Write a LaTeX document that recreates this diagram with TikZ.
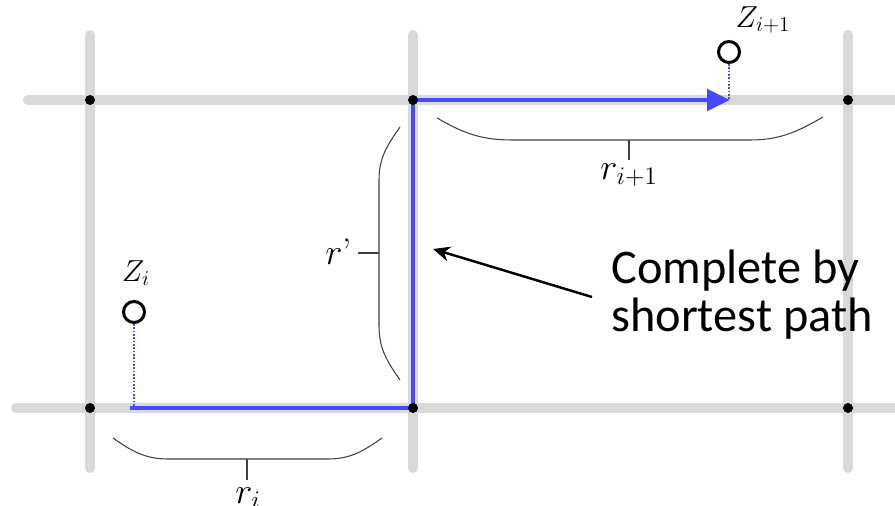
\documentclass[tikz,border=0pt]{standalone}
\usepackage{amsmath,amssymb}
\usepackage{fontspec}
\usepackage{tikz}
\usetikzlibrary{arrows.meta}
\newfontfamily\calloutfont{Carlito}
\definecolor{gridgray}{RGB}{217,217,217}
\definecolor{pathblue}{RGB}{72,72,252}

\begin{document}
\begin{tikzpicture}[x=0.02cm,y=-0.02cm,
    gridline/.style={gridgray, line width=5.7pt, line cap=round},
    route/.style={pathblue, line width=2.8pt},
    probe/.style={pathblue, densely dotted, line width=0.9pt},
    brace/.style={black!75, line width=0.6pt},
    site/.style={circle, draw, line width=1.7pt, minimum size=0.42cm, inner sep=0pt},
    dot/.style={circle, fill, inner sep=0pt, minimum size=0.2cm}]
    \useasboundingbox (0,0) rectangle (895,506);

    \coordinate (A) at (90,100);
    \coordinate (B) at (413,100);
    \coordinate (C) at (848,100);
    \coordinate (D) at (90,408);
    \coordinate (E) at (413,408);
    \coordinate (F) at (848,408);
    \coordinate (S) at (130,408);
    \coordinate (T) at (730,100);
    \coordinate (S0) at (134,408);
    \coordinate (T0) at (729,100);

    \draw[gridline] (28,100) -- (900,100);
    \draw[gridline] (16,408) -- (900,408);
    \draw[gridline] (90,35) -- (90,468);
    \draw[gridline] (413,35) -- (413,468);
    \draw[gridline] (848,35) -- (848,468);

    \draw[route, -{Triangle[length=0.46cm,width=0.42cm]}] (S) -- (E) -- (B) -- (T);

    \node[site] (Zi) at (134,312) {};
    \node[site] (Zj) at (729,52) {};
    \draw[probe] (Zi) -- (S0);
    \draw[probe] (Zj) -- (T0);

    \node at (A)[dot]{};
    \node at (B)[dot]{};
    \node at (C)[dot]{};
    \node at (D)[dot]{};
    \node at (E)[dot]{};
    \node at (F)[dot]{};

    \draw[brace] (113,438) to[out=-35,in=180] (168,459) -- (328,459)
        to[out=0,in=215] (382,438);
    \draw[brace] (247,459) -- (247,480);
    \draw[brace] (437,118) to[out=-30,in=180] (512,140) -- (750,140)
        to[out=0,in=210] (823,117);
    \draw[brace] (629,140) -- (629,160);
    \draw[brace] (400,127) to[out=235,in=90] (379,180) -- (379,326)
        to[out=-90,in=125] (400,380);
    \draw[brace] (379,253) -- (358,253);

    \node[inner sep=0pt] (ZiLabel) at (136,273) {\fontsize{17}{20}\selectfont $Z_i$};
    \node[inner sep=0pt] (ZjLabel) at (763,20) {\fontsize{17}{20}\selectfont $Z_{i+1}$};
    \node[anchor=north, inner sep=0pt] (ri) at (248,487) {\fontsize{21}{25}\selectfont $r_i$};
    \node[anchor=north, inner sep=0pt] (rj) at (629,163) {\fontsize{21}{25}\selectfont $r_{i+1}$};
    \node[anchor=east, inner sep=0pt] (rp) at (352,252) {\fontsize{21}{25}\selectfont $r$\char"2019};

    \node[anchor=north west, align=left, inner sep=0pt,
        font={\calloutfont\fontsize{27.5}{27}\selectfont}] (note) at (611,250)
        {Complete by\\shortest path};
    \coordinate (N) at (592,297);
    \coordinate (M) at (433,249);
    \draw[line width=1.4pt, -{Stealth[length=0.34cm,width=0.3cm]}] (N) -- (M);
\end{tikzpicture}
\end{document}
